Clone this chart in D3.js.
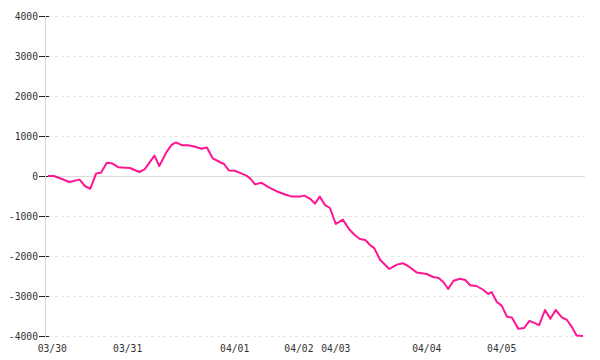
<!DOCTYPE html>
<html><head><meta charset="utf-8">
<script src="https://cdn.jsdelivr.net/npm/d3@7"></script>
<style>body{margin:0;background:#fff}svg{display:block}</style>
</head><body>
<svg id="c" width="600" height="360"></svg>
<script>
// position along the session axis (0..100) and value
const steps = [0,1.1,2.6,4.0,5.9,6.9,7.9,9.0,9.9,11.0,11.9,13.1,15.3,17.1,18.1,19.9,20.8,22.2,23.1,23.9,25.0,26.2,27.5,28.7,29.7,30.8,32.1,32.9,33.8,34.9,36.2,37.1,37.9,38.7,39.9,41.2,42.7,44.6,45.6,47.1,47.9,49.0,49.9,50.8,51.8,52.7,53.8,55.1,56.4,57.4,58.3,59.3,60.2,61.0,62.1,63.8,65.2,66.3,67.3,68.9,70.8,72.0,73.0,73.9,74.8,75.8,77.0,78.0,78.9,80.1,81.4,82.3,82.9,83.9,84.8,85.8,86.7,87.9,89.0,90.0,91.0,91.8,92.9,93.9,94.9,96.0,97.0,97.9,98.8,100];
const values = [0,0,-75,-150,-90,-250,-320,65,80,330,320,220,200,100,170,510,250,610,780,840,770,770,730,680,710,440,350,300,140,130,60,10,-75,-210,-170,-280,-380,-475,-515,-515,-490,-570,-690,-515,-730,-800,-1200,-1090,-1350,-1480,-1575,-1600,-1725,-1810,-2100,-2325,-2215,-2180,-2250,-2410,-2450,-2525,-2550,-2650,-2825,-2620,-2570,-2600,-2730,-2750,-2850,-2950,-2900,-3150,-3240,-3520,-3540,-3820,-3800,-3620,-3680,-3730,-3350,-3570,-3350,-3530,-3600,-3770,-3985,-4000];
const dayLabels = ["03/30","03/31","04/01","04/02","04/03","04/04","04/05"];
const dayPos = [0.7,14.8,34.8,46.8,53.7,70.7,84.7];
const yTicks = [-4000,-3000,-2000,-1000,0,1000,2000,3000,4000];

const svg = d3.select("#c");
const x = d3.scaleLinear().domain([0,100]).range([48,583]);
const y = d3.scaleLinear().domain([-4000,4000]).range([336,16]);
const font = "'DejaVu Sans Mono', monospace";

// grid
svg.append("g").selectAll("line").data(yTicks.filter(d=>d!==0)).join("line")
  .attr("x1",49).attr("x2",585)
  .attr("y1",d=>y(d)+0.5).attr("y2",d=>y(d)+0.5)
  .attr("stroke","#e6e6e6").attr("stroke-dasharray","3,3");
svg.append("line").attr("x1",45).attr("x2",585)
  .attr("y1",y(0)+0.5).attr("y2",y(0)+0.5).attr("stroke","#dcdcdc");

// y axis
const yAxis = d3.axisLeft(y).tickValues(yTicks).tickSize(10).tickPadding(1);
const gy = svg.append("g").attr("transform","translate(49,0)").call(yAxis);
gy.select(".domain").remove();
gy.selectAll(".tick line").attr("stroke","#222");
gy.selectAll(".tick text").attr("font-family",font).attr("font-size",9.7).attr("fill","#333")
  .text(d=>String(d));
svg.append("line").attr("x1",45.5).attr("x2",45.5).attr("y1",16).attr("y2",337).attr("stroke","#d8d8d8");

// x labels
const xAxis = d3.axisBottom(x).tickValues(dayPos).tickFormat((d,i)=>dayLabels[i]).tickSize(0).tickPadding(9);
const gx = svg.append("g").attr("transform","translate(0,336)").call(xAxis);
gx.select(".domain").remove();
gx.selectAll(".tick text").attr("font-family",font).attr("font-size",9.7).attr("fill","#333");

// line
const data = steps.map((s,i)=>({s, v:values[i]}));
svg.append("path").datum(data)
  .attr("fill","none").attr("stroke","#ff1493").attr("stroke-width",2)
  .attr("stroke-linejoin","round")
  .attr("d", d3.line().x(d=>x(d.s)).y(d=>y(d.v)));
</script>
</body></html>
